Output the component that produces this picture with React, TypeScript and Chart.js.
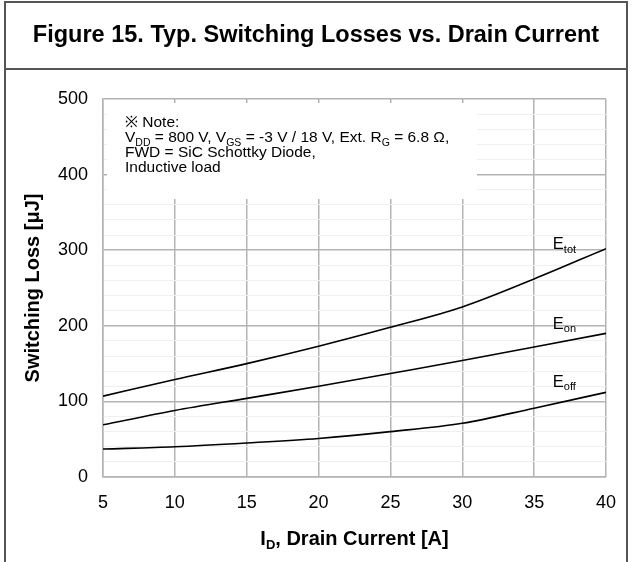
import React, { useEffect, useRef } from 'react';
import { Chart, registerables } from 'chart.js';
Chart.register(...registerables);

const currents = [5, 10, 15, 20, 25, 30, 35, 40];
const eTot = [107, 129, 150, 173, 198, 225, 262, 302];
const eOn = [69, 88, 104, 120, 137, 154, 172, 190];
const eOff = [37, 40, 45, 51, 60, 71, 91, 112];
const seriesNames = ['tot', 'on', 'off'];
const labelAnchors = [307, 202, 125];

const titleText = 'Figure 15. Typ. Switching Losses vs. Drain Current';
const yTitle = 'Switching Loss [\u03bcJ]';
const FONT = '"Liberation Sans", Arial, sans-serif';

type Part = [string, boolean];

function drawRich(ctx: CanvasRenderingContext2D, x: number, y: number, parts: Part[], size: number, subSize: number, bold: boolean, align: 'left' | 'center') {
  const w = (p: Part) => {
    ctx.font = `${bold ? 'bold ' : ''}${p[1] ? subSize : size}px ${FONT}`;
    return ctx.measureText(p[0]).width;
  };
  let total = 0;
  parts.forEach((p) => (total += w(p)));
  let cx = align === 'center' ? x - total / 2 : x;
  ctx.textAlign = 'left';
  ctx.textBaseline = 'middle';
  parts.forEach((p) => {
    ctx.font = `${bold ? 'bold ' : ''}${p[1] ? subSize : size}px ${FONT}`;
    ctx.fillText(p[0], cx, p[1] ? y + size * 0.3 : y);
    cx += ctx.measureText(p[0]).width;
  });
}

const decor = {
  id: 'decor',
  beforeDraw(chart: any) {
    const c = chart.ctx;
    c.save();
    c.fillStyle = '#fff';
    c.fillRect(0, 0, chart.width, chart.height);
    c.restore();
  },
  afterDraw(chart: any) {
    const c: CanvasRenderingContext2D = chart.ctx;
    const a = chart.chartArea;
    const xs = chart.scales.x;
    const ys = chart.scales.y;
    c.save();
    // frame
    c.strokeStyle = '#555';
    c.lineWidth = 2;
    c.beginPath();
    c.moveTo(5, 562);
    c.lineTo(5, 2);
    c.lineTo(627, 2);
    c.lineTo(627, 562);
    c.moveTo(5, 69);
    c.lineTo(627, 69);
    c.stroke();
    // title
    c.fillStyle = '#000';
    c.font = `bold 23.5px ${FONT}`;
    c.textAlign = 'center';
    c.textBaseline = 'middle';
    c.fillText(titleText, 316, 36);
    // note box
    c.fillStyle = '#fff';
    c.fillRect(a.left + 4, a.top + 4, 370, 96);
    c.fillStyle = '#000';
    const nx = a.left + 22;
    const ny = a.top + 24;
    drawRich(c, nx, ny, [['\u203b Note:', false]], 15.5, 10.5, false, 'left');
    drawRich(c, nx, ny + 15, [
      ['V', false], ['DD', true], [' = 800 V, V', false], ['GS', true],
      [' = -3 V / 18 V, Ext. R', false], ['G', true], [' = 6.8 \u03a9,', false],
    ], 15.5, 10.5, false, 'left');
    drawRich(c, nx, ny + 30, [['FWD = SiC Schottky Diode,', false]], 15.5, 10.5, false, 'left');
    drawRich(c, nx, ny + 45, [['Inductive load', false]], 15.5, 10.5, false, 'left');
    // series labels
    seriesNames.forEach((n, i) => {
      drawRich(c, xs.getPixelForValue(36.3), ys.getPixelForValue(labelAnchors[i]), [['E', false], [n, true]], 16.5, 11, false, 'left');
    });
    // axis titles
    drawRich(c, (a.left + a.right) / 2, 539, [['I', false], ['D', true], [', Drain Current [A]', false]], 20, 13, true, 'center');
    c.save();
    c.translate(33, (a.top + a.bottom) / 2);
    c.rotate(-Math.PI / 2);
    c.font = `bold 20px ${FONT}`;
    c.textAlign = 'center';
    c.textBaseline = 'middle';
    c.fillText(yTitle, 0, 0);
    c.restore();
    c.restore();
  },
};

export default function App() {
  const ref = useRef<HTMLCanvasElement>(null);
  useEffect(() => {
    document.body.style.margin = '0';
    const mk = (vals: number[]) => currents.map((x, i) => ({ x, y: vals[i] }));
    const ds = (vals: number[]) => ({
      data: mk(vals),
      borderColor: '#000',
      borderWidth: 1.6,
      pointRadius: 0,
      fill: false,
      cubicInterpolationMode: 'monotone' as const,
    });
    const chart = new Chart(ref.current!, {
      type: 'line',
      data: { datasets: [ds(eTot), ds(eOn), ds(eOff)] },
      options: {
        responsive: false,
        animation: false,
        devicePixelRatio: 1,
        layout: { padding: { left: 0, top: 99, right: 26, bottom: 0 } },
        plugins: { legend: { display: false }, tooltip: { enabled: false }, title: { display: false } },
        scales: {
          x: {
            type: 'linear',
            min: 5,
            max: 40,
            afterFit: (s: any) => { s.height = 85; },
            ticks: { stepSize: 5, color: '#000', font: { family: FONT, size: 18 }, padding: 15, maxRotation: 0 },
            grid: { color: '#b3b3b3', lineWidth: 1.5, drawTicks: false },
            border: { color: '#b3b3b3', width: 1.5 },
          },
          y: {
            min: 0,
            max: 500,
            afterFit: (s: any) => { s.width = 103; },
            ticks: {
              stepSize: 20,
              autoSkip: false,
              color: '#000',
              font: { family: FONT, size: 18 },
              padding: 15,
              callback: (v: any) => (Number(v) % 100 === 0 ? String(v) : ''),
            },
            grid: {
              drawTicks: false,
              color: (ctx: any) => (ctx.tick && ctx.tick.value % 100 === 0 ? '#b3b3b3' : '#efefef'),
              lineWidth: (ctx: any) => (ctx.tick && ctx.tick.value % 100 === 0 ? 1.5 : 1),
            },
            border: { color: '#b3b3b3', width: 1.5 },
          },
        },
      },
      plugins: [decor],
    });
    return () => chart.destroy();
  }, []);
  return <canvas ref={ref} width={632} height={562} style={{ display: 'block' }} />;
}
